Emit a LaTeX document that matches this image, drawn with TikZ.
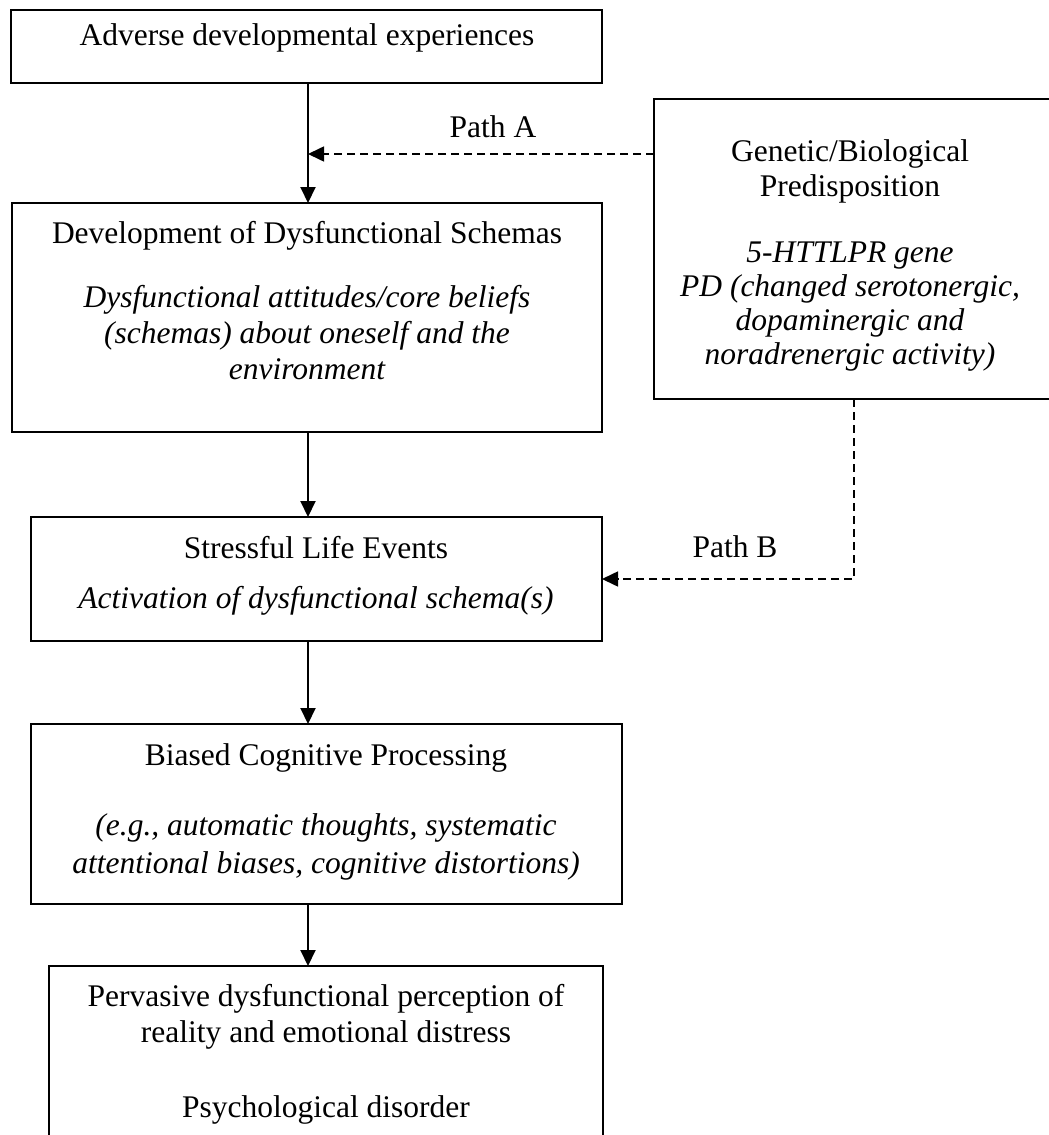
\documentclass[tikz,border=0pt]{standalone}
\usepackage{fontspec}
\setmainfont{Liberation Serif}
\usetikzlibrary{arrows.meta}
\begin{document}
\begin{tikzpicture}[x=1pt,y=-1pt,
  box/.style={draw, line width=2pt, inner sep=0pt, outer sep=0pt, anchor=north west},
  txt/.style={font=\fontsize{31.5}{36}\selectfont, anchor=base, inner sep=0pt},
  itxt/.style={txt, font=\fontsize{31.5}{36}\selectfont\itshape},
  flow/.style={line width=2pt, -{Triangle[length=16pt,width=15pt]}},
  link/.style={line width=1.6pt, dash pattern=on 8pt off 5pt, -{Triangle[length=16pt,width=15pt]}}]
\useasboundingbox (0,0) rectangle (1049,1135);

% boxes
\node[box, minimum width=591pt, minimum height=73pt]  (adverse) at (11,10)  {};
\node[box, minimum width=590pt, minimum height=229pt] (schemas) at (12,203) {};
\node[box, minimum width=571pt, minimum height=124pt] (stress)  at (31,517) {};
\node[box, minimum width=591pt, minimum height=180pt] (biased)  at (31,724) {};
\node[box, minimum width=554pt, minimum height=200pt] (outcome) at (49,966) {};
\node[box, minimum width=400pt, minimum height=300pt] (genetic) at (654,99) {};

% box texts
\node[txt]  (t1)  at (307,45)  {Adverse developmental experiences};
\node[txt]  (t2)  at (307,243) {Development of Dysfunctional Schemas};
\node[itxt] (t2a) at (307,307) {Dysfunctional attitudes/core beliefs};
\node[itxt] (t2b) at (307,343) {(schemas) about oneself and the};
\node[itxt] (t2c) at (307,379) {environment};
\node[txt]  (g1)  at (850,161) {Genetic/Biological};
\node[txt]  (g2)  at (850,196) {Predisposition};
\node[itxt] (g3)  at (850,262) {5-HTTLPR gene};
\node[itxt] (g4)  at (850,296) {PD (changed serotonergic,};
\node[itxt] (g5)  at (850,330) {dopaminergic and};
\node[itxt] (g6)  at (850,364) {noradrenergic activity)};
\node[txt]  (t3)  at (316,558) {Stressful Life Events};
\node[itxt] (t3a) at (316,608) {Activation of dysfunctional schema(s)};
\node[txt]  (t4)  at (326,765) {Biased Cognitive Processing};
\node[itxt] (t4a) at (326,835) {(e.g., automatic thoughts, systematic};
\node[itxt] (t4b) at (326,873) {attentional biases, cognitive distortions)};
\node[txt]  (t5)  at (326,1006) {Pervasive dysfunctional perception of};
\node[txt]  (t5a) at (326,1042) {reality and emotional distress};
\node[txt]  (t5b) at (326,1117) {Psychological disorder};

% path labels
\node[txt] (pathA) at (493,137) {Path A};
\node[txt] (pathB) at (735,557) {Path B};

% main flow
\coordinate (spine) at (308,0);
\draw[flow] (adverse.south -| spine) -- (schemas.north -| spine);
\draw[flow] (schemas.south -| spine) -- (stress.north -| spine);
\draw[flow] (stress.south -| spine) -- (biased.north -| spine);
\draw[flow] (biased.south -| spine) -- (outcome.north -| spine);

% genetic influences
\coordinate (pa) at (308,154);
\coordinate (pb) at (854,579);
\draw[link] (genetic.west |- pa) -- (pa);
\draw[link] (genetic.south -| pb) |- (stress.east |- pb);
\end{tikzpicture}
\end{document}
